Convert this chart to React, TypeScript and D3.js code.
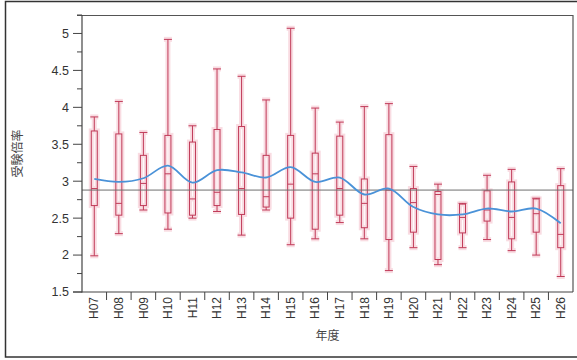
import React from "react";
import * as d3 from "d3";

const categories = ["H07","H08","H09","H10","H11","H12","H13","H14","H15","H16","H17","H18","H19","H20","H21","H22","H23","H24","H25","H26"];
const whiskerHigh = [3.87,4.08,3.66,4.92,3.75,4.52,4.42,4.10,5.07,3.99,3.80,4.01,4.05,3.20,2.96,2.70,3.08,3.16,2.77,3.17];
const q3 = [3.68,3.64,3.35,3.62,3.53,3.70,3.74,3.35,3.62,3.38,3.61,3.03,3.63,2.90,2.86,2.69,2.87,2.99,2.76,2.94];
const medians = [2.90,2.70,2.97,3.10,2.76,2.85,2.90,2.79,2.96,3.10,2.90,2.70,2.88,2.71,2.82,2.51,2.61,2.51,2.56,2.28];
const q1 = [2.67,2.54,2.67,2.57,2.54,2.67,2.55,2.65,2.50,2.35,2.54,2.37,2.21,2.31,1.94,2.30,2.46,2.22,2.31,2.10];
const whiskerLow = [1.99,2.29,2.61,2.35,2.50,2.59,2.27,2.61,2.14,2.22,2.44,2.22,1.79,2.10,1.87,2.10,2.21,2.06,2.00,1.71];
const means = [3.03,2.99,3.04,3.21,2.98,3.15,3.12,3.05,3.19,2.99,3.05,2.82,2.90,2.65,2.55,2.55,2.63,2.59,2.63,2.43];
const referenceValue = 2.88;
const yMajorTicks = [1.5,2,2.5,3,3.5,4,4.5,5];
const yTickLabels = ["1.5","2","2.5","3","3.5","4","4.5","5"];
const yMinorTicks = [1.75,2.25,2.75,3.25,3.75,4.25,4.75,5.25];

const W = 577, H = 360;
const left = 82, right = 573, top = 15, bottom = 292;

export default function App() {
  const x = d3.scaleBand<string>().domain(categories).range([left, right]).padding(0);
  const y = d3.scaleLinear().domain([1.5, 5.25]).range([bottom, top]);
  const bw = x.bandwidth();
  const cx = (i: number) => (x(categories[i]) as number) + bw / 2;
  const boxW = 6;
  const capW = 8;
  const line = d3.line<number>().x((_, i) => cx(i)).y(d => y(d)).curve(d3.curveCatmullRom.alpha(0.5));
  const font = "'Liberation Sans', Arial, sans-serif";
  const boxColor = "#c03a58";
  const glow = "#f2b2c0";

  const boxes = categories.map((c, i) => {
    const xc = cx(i);
    const parts = (stroke: string, sw: number, op: number) => (
      <g stroke={stroke} strokeWidth={sw} fill="none" opacity={op}>
        <line x1={xc} x2={xc} y1={y(whiskerHigh[i])} y2={y(q3[i])} />
        <line x1={xc} x2={xc} y1={y(q1[i])} y2={y(whiskerLow[i])} />
        <line x1={xc - capW / 2} x2={xc + capW / 2} y1={y(whiskerHigh[i])} y2={y(whiskerHigh[i])} />
        <line x1={xc - capW / 2} x2={xc + capW / 2} y1={y(whiskerLow[i])} y2={y(whiskerLow[i])} />
        <rect x={xc - boxW / 2} y={y(q3[i])} width={boxW} height={y(q1[i]) - y(q3[i])} />
        <line x1={xc - boxW / 2} x2={xc + boxW / 2} y1={y(medians[i])} y2={y(medians[i])} />
      </g>
    );
    return (
      <g key={c}>
        {parts(glow, 5, 0.45)}
        {parts(boxColor, 1, 1)}
      </g>
    );
  });

  return (
    <svg width={W} height={H} style={{ position: "absolute", left: 0, top: 0, background: "#fff" }}>
      <rect x={5.5} y={1.5} width={W + 10} height={355.5} fill="#fff" stroke="#333" strokeWidth={1.5} />
      <rect x={left} y={top} width={right - left} height={bottom - top} fill="#fff" />
      {boxes}
      <line x1={left} x2={right} y1={y(referenceValue)} y2={y(referenceValue)} stroke="#6e6e6e" strokeWidth={1} />
      <path d={line(means) || ""} fill="none" stroke="#4a92d8" strokeWidth={1.8} />
      {/* frame */}
      <path d={`M${left - 5},${top + 0.5}H${right}V${bottom}`} fill="none" stroke="#555" strokeWidth={1.2} />
      <line x1={left} x2={left} y1={top} y2={bottom + 0.5} stroke="#444" strokeWidth={1.2} />
      <line x1={left - 9} x2={right} y1={bottom} y2={bottom} stroke="#444" strokeWidth={1.2} />
      {/* y ticks */}
      {yMajorTicks.map((t, i) => (
        <g key={"m" + t}>
          <line x1={left - 9} x2={left} y1={y(t)} y2={y(t)} stroke="#444" strokeWidth={1} />
          <text x={left - 13} y={y(t)} dy="0.35em" textAnchor="end" fontFamily={font} fontSize={12.5} fill="#333">{yTickLabels[i]}</text>
        </g>
      ))}
      {yMinorTicks.map(t => (
        <line key={"n" + t} x1={left - 5} x2={left} y1={y(t)} y2={y(t)} stroke="#444" strokeWidth={1} />
      ))}
      {/* x ticks */}
      {categories.map((c, i) => (
        <g key={"x" + c}>
          {i > 0 && <line x1={x(c) as number} x2={x(c) as number} y1={bottom} y2={bottom + 8} stroke="#444" strokeWidth={1} />}
          <text transform={`translate(${cx(i)},${bottom + 5}) rotate(-90)`} dy="0.35em" textAnchor="end" fontFamily={font} fontSize={12} fill="#333">{c}</text>
        </g>
      ))}
      <text x={(left + right) / 2} y={340} textAnchor="middle" fontFamily="'Noto Sans CJK JP', sans-serif" fontSize={12} fill="#444">年度</text>
      <text transform={`translate(22,${(top + bottom) / 2}) rotate(-90)`} textAnchor="middle" fontFamily="'Noto Sans CJK JP', sans-serif" fontSize={12} fill="#444">受験倍率</text>
    </svg>
  );
}
